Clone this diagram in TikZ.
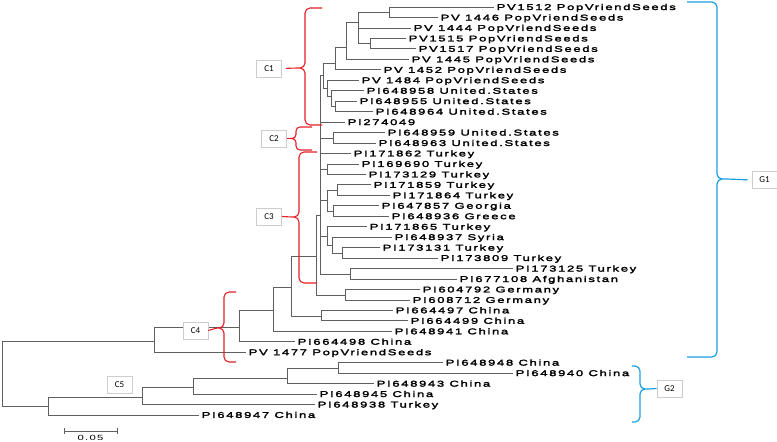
\documentclass[tikz,border=0pt]{standalone}
\usepackage{fontspec}
\newfontfamily\leaffont[FakeStretch=1.55,LetterSpace=20,FakeBold=2.6]{Liberation Sans}
\newfontfamily\scalefont[FakeStretch=1.5,LetterSpace=18]{Liberation Sans}
\newfontfamily\boxfont{Carlito}
\definecolor{branchgray}{RGB}{95,95,95}
\definecolor{cladered}{RGB}{228,32,38}
\definecolor{groupblue}{RGB}{28,160,224}
\definecolor{boxgray}{RGB}{205,205,205}
\tikzset{
  branch/.style={branchgray,line width=0.8pt},
  leaf/.style={anchor=west,inner xsep=2.5pt,inner ysep=0pt,text height=6pt,text depth=0pt,
    font=\leaffont\fontsize{8.4}{9}\selectfont},
  cbox/.style={draw=boxgray,fill=white,line width=0.6pt,minimum width=25pt,minimum height=17pt,
    inner sep=0pt,font=\boxfont\fontsize{9}{10}\selectfont},
  redbrace/.style={cladered,line width=1.1pt,rounded corners=5pt},
  bluebrace/.style={groupblue,line width=1.2pt,rounded corners=5pt}
}
\begin{document}
\begin{tikzpicture}[x=1pt,y=-1pt]
\useasboundingbox (0,0) rectangle (777,442);
% leaves
\node[leaf] (t1) at (494,7.0) {PV1512 PopVriendSeeds};
\node[leaf] (t2) at (438,17.5) {PV 1446 PopVriendSeeds};
\node[leaf] (t3) at (411,27.9) {PV 1444 PopVriendSeeds};
\node[leaf] (t4) at (406,38.4) {PV1515 PopVriendSeeds};
\node[leaf] (t5) at (416,48.8) {PV1517 PopVriendSeeds};
\node[leaf] (t6) at (409,59.3) {PV 1445 PopVriendSeeds};
\node[leaf] (t7) at (381,69.8) {PV 1452 PopVriendSeeds};
\node[leaf] (t8) at (359,80.2) {PV 1484 PopVriendSeeds};
\node[leaf] (t9) at (364,90.7) {PI648958 United.States};
\node[leaf] (t10) at (357,101.1) {PI648955 United.States};
\node[leaf] (t11) at (373,111.6) {PI648964 United.States};
\node[leaf] (t12) at (345,122.1) {PI274049};
\node[leaf] (t13) at (385,132.5) {PI648959 United.States};
\node[leaf] (t14) at (376,143.0) {PI648963 United.States};
\node[leaf] (t15) at (351,153.4) {PI171862 Turkey};
\node[leaf] (t16) at (359,163.9) {PI169690 Turkey};
\node[leaf] (t17) at (366,174.4) {PI173129 Turkey};
\node[leaf] (t18) at (371,184.8) {PI171859 Turkey};
\node[leaf] (t19) at (390,195.3) {PI171864 Turkey};
\node[leaf] (t20) at (379,205.7) {PI647857 Georgia};
\node[leaf] (t21) at (389,216.2) {PI648936 Greece};
\node[leaf] (t22) at (367,226.7) {PI171865 Turkey};
\node[leaf] (t23) at (392,237.1) {PI648937 Syria};
\node[leaf] (t24) at (380,247.6) {PI173131 Turkey};
\node[leaf] (t25) at (438,258.0) {PI173809 Turkey};
\node[leaf] (t26) at (513,268.5) {PI173125 Turkey};
\node[leaf] (t27) at (457,279.0) {PI677108 Afghanistan};
\node[leaf] (t28) at (420,289.4) {PI604792 Germany};
\node[leaf] (t29) at (410,299.9) {PI608712 Germany};
\node[leaf] (t30) at (393,310.3) {PI664497 China};
\node[leaf] (t31) at (408,320.8) {PI664499 China};
\node[leaf] (t32) at (392,331.3) {PI648941 China};
\node[leaf] (t33) at (295,341.7) {PI664498 China};
\node[leaf] (t34) at (246,352.2) {PV 1477 PopVriendSeeds};
\node[leaf] (t35) at (443,362.6) {PI648948 China};
\node[leaf] (t36) at (513,373.1) {PI648940 China};
\node[leaf] (t37) at (374,383.6) {PI648943 China};
\node[leaf] (t38) at (317,394.0) {PI648945 China};
\node[leaf] (t39) at (315,404.5) {PI648938 Turkey};
\node[leaf] (t40) at (199,414.9) {PI648947 China};
% inner nodes
\coordinate (n1) at (389,12);
\coordinate (n2) at (370,43);
\coordinate (n3) at (358,22);
\coordinate (n4) at (346,47);
\coordinate (n5) at (335,63);
\coordinate (n6) at (335,106);
\coordinate (n7) at (331,96);
\coordinate (n8) at (327,88);
\coordinate (n9) at (323,75);
\coordinate (n10) at (333,138);
\coordinate (n11) at (327,169);
\coordinate (n12) at (337,190);
\coordinate (n13) at (333,211);
\coordinate (n14) at (327,200);
\coordinate (n15) at (342,253);
\coordinate (n16) at (332,245);
\coordinate (n17) at (327,236);
\coordinate (n18) at (350,274);
\coordinate (n19) at (320,215);
\coordinate (n20) at (345,295);
\coordinate (n21) at (316,256);
\coordinate (n22) at (321,316);
\coordinate (n23) at (291,287);
\coordinate (n24) at (273,310);
\coordinate (n25) at (239,327);
\coordinate (n26) at (154,341);
\coordinate (n27) at (338,368);
\coordinate (n28) at (287,378);
\coordinate (n29) at (193,387);
\coordinate (n30) at (142,397);
\coordinate (n31) at (48,406);
\coordinate (root) at (2,370);
% branches
\draw[branch] (n1) |- (t1.west) (n1) |- (t2.west);
\draw[branch] (n2) |- (t4.west) (n2) |- (t5.west);
\draw[branch] (n3) |- (n1) (n3) |- (t3.west) (n3) |- (n2);
\draw[branch] (n4) |- (n3) (n4) |- (t6.west);
\draw[branch] (n5) |- (n4) (n5) |- (t7.west);
\draw[branch] (n6) |- (t10.west) (n6) |- (t11.west);
\draw[branch] (n7) |- (t9.west) (n7) |- (n6);
\draw[branch] (n8) |- (t8.west) (n8) |- (n7);
\draw[branch] (n9) |- (n5) (n9) |- (n8);
\draw[branch] (n10) |- (t13.west) (n10) |- (t14.west);
\draw[branch] (n11) |- (t16.west) (n11) |- (t17.west);
\draw[branch] (n12) |- (t18.west) (n12) |- (t19.west);
\draw[branch] (n13) |- (t20.west) (n13) |- (t21.west);
\draw[branch] (n14) |- (n12) (n14) |- (n13);
\draw[branch] (n15) |- (t24.west) (n15) |- (t25.west);
\draw[branch] (n16) |- (t23.west) (n16) |- (n15);
\draw[branch] (n17) |- (t22.west) (n17) |- (n16);
\draw[branch] (n18) |- (t26.west) (n18) |- (t27.west);
\draw[branch] (n19) |- (n9) (n19) |- (t12.west) (n19) |- (n10) (n19) |- (t15.west)
  (n19) |- (n11) (n19) |- (n14) (n19) |- (n17) (n19) |- (n18);
\draw[branch] (n20) |- (t28.west) (n20) |- (t29.west);
\draw[branch] (n21) |- (n19) (n21) |- (n20);
\draw[branch] (n22) |- (t30.west) (n22) |- (t31.west);
\draw[branch] (n23) |- (n21) (n23) |- (n22);
\draw[branch] (n24) |- (n23) (n24) |- (t32.west);
\draw[branch] (n25) |- (n24) (n25) |- (t33.west);
\draw[branch] (n26) |- (n25) (n26) |- (t34.west);
\draw[branch] (n27) |- (t35.west) (n27) |- (t36.west);
\draw[branch] (n28) |- (n27) (n28) |- (t37.west);
\draw[branch] (n29) |- (n28) (n29) |- (t38.west);
\draw[branch] (n30) |- (n29) (n30) |- (t39.west);
\draw[branch] (n31) |- (n30) (n31) |- (t40.west);
\draw[branch] (root) |- (n26) (root) |- (n31);
% clade boxes and braces
\node[cbox] (c1) at (269,68.5) {C1};
\node[cbox] (c2) at (274,138.5) {C2};
\node[cbox] (c3) at (269,216.5) {C3};
\node[cbox] (c4) at (195.5,330.5) {C4};
\node[cbox] (c5) at (119.5,385) {C5};
\node[cbox] (g1) at (764.5,180) {G1};
\node[cbox] (g2) at (669.5,388.5) {G2};
\coordinate (tip1) at (297,68);
\coordinate (tip2) at (290,138.5);
\coordinate (tip3) at (292,217);
\coordinate (tip4) at (217,328);
\coordinate (tip5) at (727,179);
\coordinate (tip6) at (648,389);
\draw[redbrace] (322,8) -| (305,68) -- (tip1) (tip1) -- (305,68) |- (322,125);
\draw[redbrace,rounded corners=4pt] (312,127) -| (296,138.5) -- (tip2) (tip2) -- (296,138.5) |- (312,150);
\draw[redbrace] (317,152) -| (299,217) -- (tip3) (tip3) -- (299,217) |- (317,283);
\draw[redbrace] (236,292) -| (224,328) -- (tip4) (tip4) -- (224,328) |- (236,362);
\draw[bluebrace] (687,2) -| (717,179) -- (tip5) (tip5) -- (717,179) |- (687,357);
\draw[bluebrace] (632,366) -| (640,389) -- (tip6) (tip6) -- (640,389) |- (632,422);
\draw[cladered,line width=1.1pt,shorten >=4pt] (tip1) -- (c1.east);
\draw[cladered,line width=1.1pt] (tip2) -- (c2.east);
\draw[cladered,line width=1.1pt] (tip3) -- (c3.east);
\draw[cladered,line width=1.1pt] (tip4) -- (c4.east);
\draw[groupblue,line width=1.2pt,shorten >=4pt] (tip5) -- (g1.west);
\draw[groupblue,line width=1.2pt] (tip6) -- (g2.west);
% scale bar
\coordinate (s1) at (64,431);
\coordinate (s2) at (117,431);
\draw[branch] ([yshift=3pt]s1) -- ([yshift=-3pt]s1) (s1) -- (s2) ([yshift=3pt]s2) -- ([yshift=-3pt]s2);
\node[font=\scalefont\fontsize{7.5}{8}\selectfont,inner sep=0pt] (sl) at (90.5,438) {0.05};
\end{tikzpicture}
\end{document}
